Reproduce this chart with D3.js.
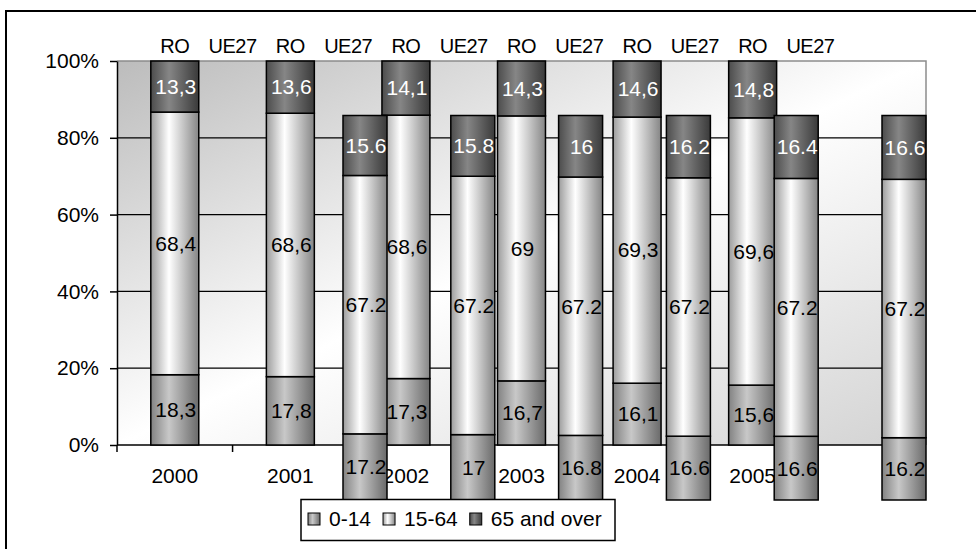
<!DOCTYPE html>
<html>
<head>
<meta charset="utf-8">
<script src="https://cdn.jsdelivr.net/npm/d3@7"></script>
<style>
  html, body { margin: 0; padding: 0; background: #fff; }
  svg { display: block; font-family: "Liberation Sans", Arial, sans-serif; }
</style>
</head>
<body>
<svg id="chart" width="976" height="549"></svg>
<script>
// Category slots on the primary axis (last slot is left without a label)
const categories = ["2000", "2001", "2002", "2003", "2004", "2005", ""];
const years = ["2000", "2001", "2002", "2003", "2004", "2005"];
const groups = ["0-14", "15-64", "65 and over"];

// Romania (RO) age structure, %
const ro014  = [18.3, 17.8, 17.3, 16.7, 16.1, 15.6];
const ro1564 = [68.4, 68.6, 68.6, 69.0, 69.3, 69.6];
const ro65   = [13.3, 13.6, 14.1, 14.3, 14.6, 14.8];

// EU-27 (UE27) age structure, %
const ue014  = [17.2, 17.0, 16.8, 16.6, 16.6, 16.2];
const ue1564 = [67.2, 67.2, 67.2, 67.2, 67.2, 67.2];
const ue65   = [15.6, 15.8, 16.0, 16.2, 16.4, 16.6];

const yTicks = [0, 0.2, 0.4, 0.6, 0.8, 1];
const topLabels = ["RO", "UE27"];

const W = 976, H = 549;
const plot = { l: 117, t: 61, r: 926, b: 445 };
const svg = d3.select("#chart");

const x = d3.scaleBand().domain(categories).range([plot.l, plot.r]);
const y = d3.scaleLinear().domain([0, 1]).range([plot.b, plot.t]);
// secondary axes used by the UE27 columns
const xUE = d3.scalePoint().domain(years).range([365, 904]);
const yUE = d3.scaleLinear().domain([0, 1]).range([500, 115.5]);

const roRows = years.map((yr, i) => ({ year: yr, "0-14": ro014[i], "15-64": ro1564[i], "65 and over": ro65[i] }));
const ueRows = years.map((yr, i) => ({ year: yr, "0-14": ue014[i], "15-64": ue1564[i], "65 and over": ue65[i] }));
const stack = d3.stack().keys(groups).offset(d3.stackOffsetExpand);
const roStack = stack(roRows);
const ueStack = stack(ueRows);

// ---- gradients ----
const defs = svg.append("defs");
const bg = defs.append("linearGradient").attr("id", "bg")
  .attr("x1", 0).attr("y1", 0).attr("x2", 1).attr("y2", 1);
[[0, "#bcbcbc"], [0.5, "#ffffff"], [1, "#d2d2d2"]].forEach(([o, c]) =>
  bg.append("stop").attr("offset", o).attr("stop-color", c));

const barStops = {
  "0-14":        ["#828282", "#c8c8c8", "#6a6a6a"],
  "15-64":       ["#9c9c9c", "#ffffff", "#858585"],
  "65 and over": ["#4c4c4c", "#868686", "#3a3a3a"]
};
groups.forEach((g, gi) => {
  const lg = defs.append("linearGradient").attr("id", "g" + gi)
    .attr("x1", 0).attr("y1", 0).attr("x2", 1).attr("y2", 0);
  const s = barStops[g];
  lg.append("stop").attr("offset", 0).attr("stop-color", s[0]);
  lg.append("stop").attr("offset", 0.38).attr("stop-color", s[1]);
  lg.append("stop").attr("offset", 1).attr("stop-color", s[2]);
});

// ---- outer frame ----
svg.append("rect").attr("x", 6).attr("y", 11).attr("width", W + 20).attr("height", H + 20)
  .attr("fill", "none").attr("stroke", "#000").attr("stroke-width", 2);

// ---- plot area ----
svg.append("rect").attr("x", plot.l).attr("y", plot.t)
  .attr("width", plot.r - plot.l).attr("height", plot.b - plot.t)
  .attr("fill", "url(#bg)");

svg.append("g").selectAll("line").data(yTicks.filter(d => d > 0 && d < 1)).join("line")
  .attr("x1", plot.l).attr("x2", plot.r)
  .attr("y1", d => y(d)).attr("y2", d => y(d))
  .attr("stroke", "#000").attr("stroke-width", 1.2);

// plot border (top and right)
svg.append("path")
  .attr("d", `M${plot.l},${y(1)}H${plot.r}V${y(0)}`)
  .attr("fill", "none").attr("stroke", "#8c8c8c").attr("stroke-width", 1.5);

// ---- y axis ----
const yAxis = svg.append("g").attr("transform", `translate(${plot.l},0)`)
  .call(d3.axisLeft(y).tickValues(yTicks).tickFormat(d3.format(".0%")).tickSize(7).tickSizeOuter(0).tickPadding(11));
yAxis.select(".domain").attr("stroke", "#000").attr("stroke-width", 1.5);
yAxis.selectAll(".tick line").attr("stroke", "#000").attr("stroke-width", 1.5);
yAxis.selectAll("text").attr("font-size", 21).attr("fill", "#000")
  .attr("font-family", "Liberation Sans, Arial, sans-serif");

// ---- x axis ----
const xg = svg.append("g");
xg.append("line").attr("x1", plot.l).attr("x2", plot.r).attr("y1", y(0)).attr("y2", y(0))
  .attr("stroke", "#000").attr("stroke-width", 1.5);
xg.selectAll("line.tk").data(categories).join("line").attr("class", "tk")
  .attr("x1", d => x(d)).attr("x2", d => x(d))
  .attr("y1", y(0)).attr("y2", y(0) + 7)
  .attr("stroke", "#000").attr("stroke-width", 1.5);
xg.selectAll("text").data(categories).join("text")
  .attr("x", d => x(d) + x.bandwidth() / 2).attr("y", 483)
  .attr("text-anchor", "middle").attr("font-size", 21).attr("fill", "#000")
  .text(d => d);

// ---- series labels above the plot ----
const topG = svg.append("g");
years.forEach(yr => {
  topLabels.forEach((lab, k) => {
    topG.append("text")
      .attr("x", x(yr) + x.bandwidth() / 2 * (1 + k))
      .attr("y", 52.5)
      .attr("text-anchor", "middle").attr("font-size", 20).attr("fill", "#000")
      .attr("letter-spacing", -0.5)
      .text(lab);
  });
});

// ---- RO columns ----
const roW = x.bandwidth() * 0.415;
const roG = svg.append("g");
roStack.forEach((layer, gi) => {
  roG.selectAll(null).data(layer).join("rect")
    .attr("x", d => x(d.data.year) + x.bandwidth() / 2 - roW / 2)
    .attr("y", d => y(d[1]))
    .attr("width", roW)
    .attr("height", d => y(d[0]) - y(d[1]))
    .attr("fill", `url(#g${gi})`).attr("stroke", "#000").attr("stroke-width", 1.5);
});
roStack.forEach((layer, gi) => {
  roG.selectAll(null).data(layer).join("text")
    .attr("x", d => x(d.data.year) + x.bandwidth() / 2 + 1)
    .attr("y", d => (y(d[0]) + y(d[1])) / 2)
    .attr("dy", "0.35em").attr("text-anchor", "middle")
    .attr("font-size", 21).attr("fill", gi === 2 ? "#fff" : "#000")
    .text(d => String(d.data[groups[gi]]).replace(".", ","));
});

// ---- UE27 columns ----
const ueW = 44;
const ueG = svg.append("g");
ueStack.forEach((layer, gi) => {
  ueG.selectAll(null).data(layer).join("rect")
    .attr("x", d => xUE(d.data.year) - ueW / 2)
    .attr("y", d => yUE(d[1]))
    .attr("width", ueW)
    .attr("height", d => yUE(d[0]) - yUE(d[1]))
    .attr("fill", `url(#g${gi})`).attr("stroke", "#000").attr("stroke-width", 1.5);
});
ueStack.forEach((layer, gi) => {
  ueG.selectAll(null).data(layer).join("text")
    .attr("x", d => xUE(d.data.year) + 1)
    .attr("y", d => (yUE(d[0]) + yUE(d[1])) / 2)
    .attr("dy", "0.35em").attr("text-anchor", "middle")
    .attr("font-size", 21).attr("fill", gi === 2 ? "#fff" : "#000")
    .text(d => String(d.data[groups[gi]]));
});

// ---- legend ----
const leg = svg.append("g");
leg.append("rect").attr("x", 301).attr("y", 499.5).attr("width", 314).attr("height", 41)
  .attr("fill", "#fff").attr("stroke", "#000").attr("stroke-width", 1.5);
let lx = 308;
groups.forEach((g, gi) => {
  leg.append("rect").attr("x", lx).attr("y", 513).attr("width", 12).attr("height", 12)
    .attr("fill", `url(#g${gi})`).attr("stroke", "#000").attr("stroke-width", 1);
  const t = leg.append("text").attr("x", lx + 21).attr("y", 519).attr("dy", "0.35em")
    .attr("font-size", 21).attr("fill", "#000").text(g);
  lx += 21 + t.node().getComputedTextLength() + 12;
});
</script>
</body>
</html>
